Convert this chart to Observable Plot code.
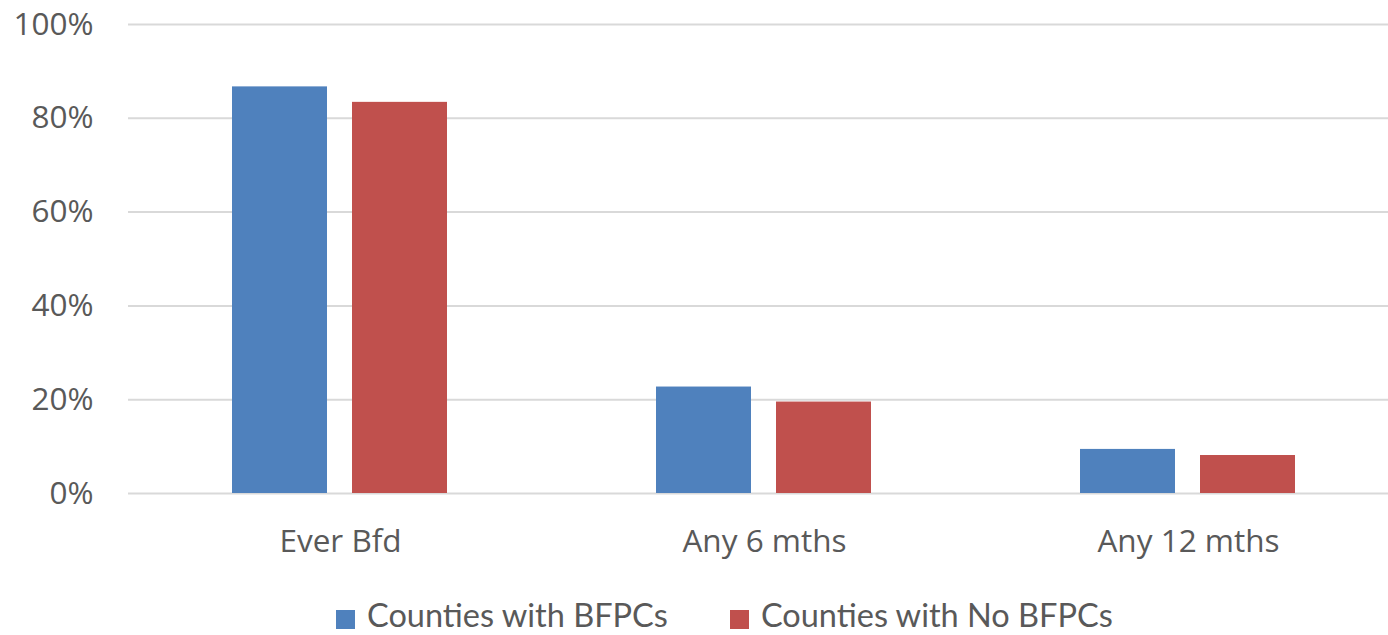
<!DOCTYPE html>
<html>
<head>
<meta charset="utf-8">
<script src="https://cdn.jsdelivr.net/npm/d3@7"></script>
<script src="https://cdn.jsdelivr.net/npm/@observablehq/plot@0.6"></script>
<style>
  html, body { margin: 0; padding: 0; background: #fff; overflow: hidden; }
  #wrap { position: relative; width: 1388px; height: 635px; overflow: hidden; }
  #legend { position: absolute; top: 601px; left: 336px; display: flex; align-items: flex-start;
            font-family: Lato, sans-serif; font-size: 32.5px; line-height: 28px; color: #595959; white-space: nowrap; }
  .sw { width: 19px; height: 19px; margin-top: 9px; margin-right: 12px; }
  .item { display: flex; align-items: flex-start; }
</style>
</head>
<body>
<div id="wrap"><div id="chart"></div><div id="legend"></div></div>
<script>
const categories = ["Ever Bfd", "Any 6 mths", "Any 12 mths"];
const seriesNames = ["Counties with BFPCs", "Counties with No BFPCs"];
const bfpcValues = [0.867, 0.227, 0.094];
const noBfpcValues = [0.834, 0.195, 0.081];
const yTicks = [0, 0.2, 0.4, 0.6, 0.8, 1.0];
const colors = ["#4f81bd", "#c0504d"];

const data = [];
categories.forEach((c, i) => {
  data.push({cat: c, series: seriesNames[0], value: bfpcValues[i]});
  data.push({cat: c, series: seriesNames[1], value: noBfpcValues[i]});
});

const chart = Plot.plot({
  width: 1401,
  height: 590,
  marginLeft: 127,
  marginRight: 0,
  marginTop: 24,
  marginBottom: 97,
  style: {fontFamily: "'Open Sans', sans-serif", fontSize: "31.5px", color: "#595959", background: "#fff", overflow: "visible", maxWidth: "none"},
  fx: {domain: categories, padding: 0, label: null, tickSize: 0, tickPadding: 36, axis: "bottom"},
  x: {domain: seriesNames, paddingInner: 0.2066, paddingOuter: 0.857, axis: null},
  y: {domain: [0, 1], ticks: yTicks, tickFormat: d3.format(".0%"), tickSize: 0, tickPadding: 35, label: null},
  color: {domain: seriesNames, range: colors},
  marks: [
    Plot.gridY(yTicks, {stroke: "#d9d9d9", strokeOpacity: 1, strokeWidth: 2}),
    Plot.barY(data, {fx: "cat", x: "series", y: "value", fill: "series"})
  ]
});
document.getElementById("chart").appendChild(chart);

const legend = document.getElementById("legend");
seriesNames.forEach((s, i) => {
  const item = document.createElement("div");
  item.className = "item";
  if (i > 0) item.style.marginLeft = "62px";
  const sw = document.createElement("div");
  sw.className = "sw";
  sw.style.background = colors[i];
  const t = document.createElement("span");
  t.textContent = s;
  item.appendChild(sw);
  item.appendChild(t);
  legend.appendChild(item);
});
</script>
</body>
</html>
